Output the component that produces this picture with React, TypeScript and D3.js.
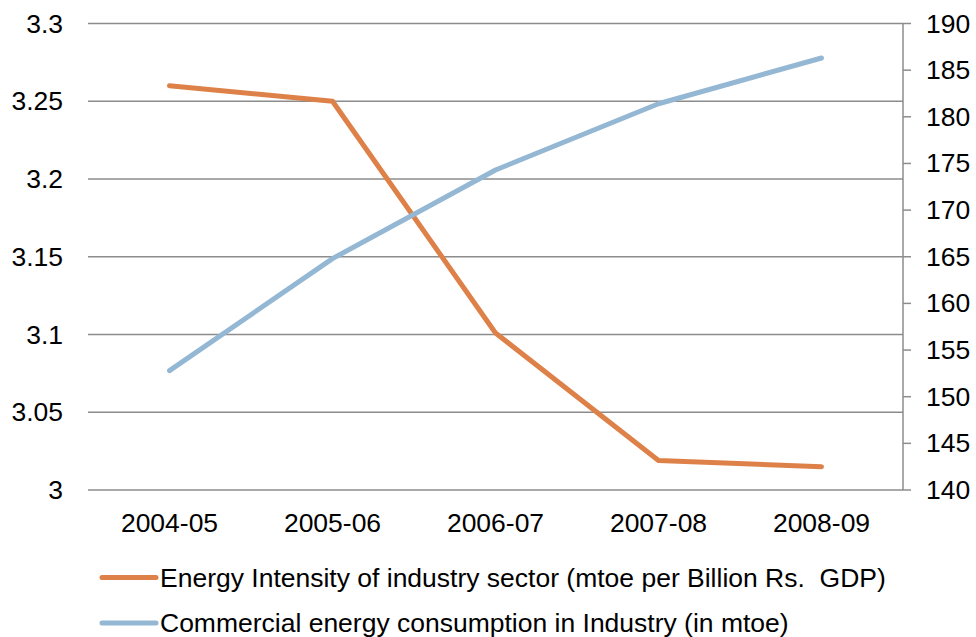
import React from "react";
import * as d3 from "d3";

// Fiscal years on the category axis
const years = ["2004-05", "2005-06", "2006-07", "2007-08", "2008-09"];
// Energy intensity of industry sector (mtoe per Billion Rs. GDP) — left axis
const intensity = [3.26, 3.25, 3.101, 3.019, 3.015];
// Commercial energy consumption in industry (mtoe) — right axis
const consumption = [152.8, 164.8, 174.3, 181.4, 186.3];
// Axis tick values
const leftTicks = [3, 3.05, 3.1, 3.15, 3.2, 3.25, 3.3];
const rightTicks = [140, 145, 150, 155, 160, 165, 170, 175, 180, 185, 190];

const seriesNames = [
  "Energy Intensity of industry sector (mtoe per Billion Rs.  GDP)",
  "Commercial energy consumption in Industry (in mtoe)",
];
const colors = ["#DE8148", "#94B7D4"];

const W = 976;
const H = 637;
const plot = { left: 88, right: 903, top: 23.5, bottom: 490 };
const font = "'Liberation Sans', Arial, sans-serif";
const fontSize = 25;
const stretch = 1.06;

type LabelProps = {
  x: number;
  y: number;
  anchor?: "start" | "middle" | "end";
  dy?: string;
  children: React.ReactNode;
};

// Text drawn slightly wide, anchored at (x, y)
function Label({ x, y, anchor = "start", dy = "0", children }: LabelProps) {
  return (
    <text
      transform={`translate(${x},${y}) scale(${stretch},1)`}
      dy={dy}
      textAnchor={anchor}
      fontSize={fontSize}
      fill="#000"
      style={{ whiteSpace: "pre" }}
    >
      {children}
    </text>
  );
}

export default function App() {
  const x = d3
    .scaleBand<string>()
    .domain(years)
    .range([plot.left, plot.right]);
  const yL = d3.scaleLinear().domain([3, 3.3]).range([plot.bottom, plot.top]);
  const yR = d3.scaleLinear().domain([140, 190]).range([plot.bottom, plot.top]);
  const cx = (d: string) => (x(d) ?? 0) + x.bandwidth() / 2;

  const lineL = d3
    .line<number>()
    .x((_, i) => cx(years[i]))
    .y((v) => yL(v));
  const lineR = d3
    .line<number>()
    .x((_, i) => cx(years[i]))
    .y((v) => yR(v));

  const fmtL = (v: number) => String(+v.toFixed(2));

  return (
    <svg
      width={W}
      height={H}
      style={{ position: "absolute", left: 0, top: 0, background: "#fff" }}
      fontFamily={font}
    >
      {/* horizontal gridlines */}
      {leftTicks.map((t) => (
        <line
          key={"g" + t}
          x1={plot.left}
          x2={plot.right}
          y1={yL(t)}
          y2={yL(t)}
          stroke="#8C8C8C"
          strokeWidth={1.5}
        />
      ))}
      {/* left tick labels */}
      {leftTicks.map((t) => (
        <Label key={"l" + t} x={63} y={yL(t)} dy="0.36em" anchor="end">
          {fmtL(t)}
        </Label>
      ))}
      {/* right axis */}
      <line
        x1={plot.right}
        x2={plot.right}
        y1={plot.top}
        y2={plot.bottom}
        stroke="#8C8C8C"
        strokeWidth={1.5}
      />
      {rightTicks.map((t) => (
        <g key={"r" + t}>
          <line
            x1={plot.right}
            x2={plot.right + 8}
            y1={yR(t)}
            y2={yR(t)}
            stroke="#8C8C8C"
            strokeWidth={1.5}
          />
          <Label x={926} y={yR(t)} dy="0.36em">
            {t}
          </Label>
        </g>
      ))}
      {/* category labels */}
      {years.map((yr) => (
        <Label key={yr} x={cx(yr)} y={532} anchor="middle">
          {yr}
        </Label>
      ))}
      {/* series lines */}
      <path
        d={lineL(intensity) ?? ""}
        fill="none"
        stroke={colors[0]}
        strokeWidth={5}
        strokeLinecap="round"
        strokeLinejoin="round"
      />
      <path
        d={lineR(consumption) ?? ""}
        fill="none"
        stroke={colors[1]}
        strokeWidth={5}
        strokeLinecap="round"
        strokeLinejoin="round"
      />
      {/* legend */}
      {seriesNames.map((name, i) => {
        const ly = 577.5 + i * 45.5;
        return (
          <g key={name}>
            <line
              x1={102}
              x2={156}
              y1={ly}
              y2={ly}
              stroke={colors[i]}
              strokeWidth={5}
              strokeLinecap="round"
            />
            <Label x={160} y={ly} dy="0.36em">
              {name}
            </Label>
          </g>
        );
      })}
    </svg>
  );
}
